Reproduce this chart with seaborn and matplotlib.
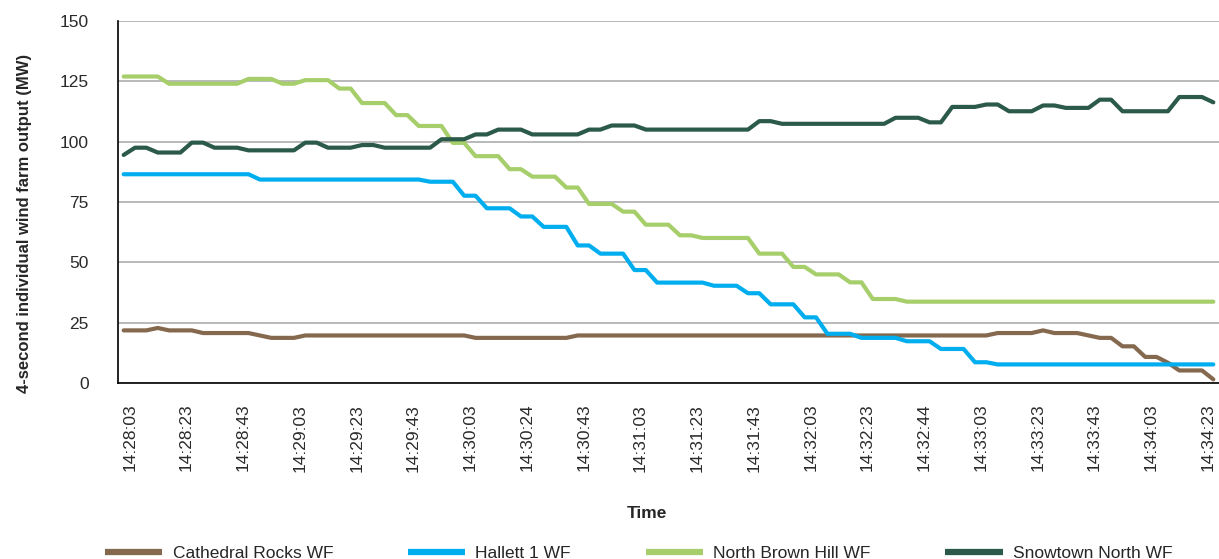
import numpy as np
import pandas as pd
import matplotlib
matplotlib.use("Agg")
import matplotlib.pyplot as plt
import matplotlib.transforms as mtransforms
import seaborn as sns

# 4-second samples, 14:28:03 -> 14:34:27 (label shown every 5th sample)
tick_labels = [
    "14:28:03", "14:28:23", "14:28:43", "14:29:03", "14:29:23",
    "14:29:43", "14:30:03", "14:30:24", "14:30:43", "14:31:03",
    "14:31:23", "14:31:43", "14:32:03", "14:32:23", "14:32:44",
    "14:33:03", "14:33:23", "14:33:43", "14:34:03", "14:34:23",
]

cathedral_rocks = [
    21.8, 21.8, 21.8, 22.8, 21.8, 21.8, 21.8, 20.7, 20.7, 20.7,
    20.7, 20.7, 19.7, 18.7, 18.7, 18.7, 19.7, 19.7, 19.7, 19.7,
    19.7, 19.7, 19.7, 19.7, 19.7, 19.7, 19.7, 19.7, 19.7, 19.7,
    19.7, 18.7, 18.7, 18.7, 18.7, 18.7, 18.7, 18.7, 18.7, 18.7,
    19.7, 19.7, 19.7, 19.7, 19.7, 19.7, 19.7, 19.7, 19.7, 19.7,
    19.7, 19.7, 19.7, 19.7, 19.7, 19.7, 19.7, 19.7, 19.7, 19.7,
    19.7, 19.7, 19.7, 19.7, 19.7, 19.7, 19.7, 19.7, 19.7, 19.7,
    19.7, 19.7, 19.7, 19.7, 19.7, 19.7, 19.7, 20.7, 20.7, 20.7,
    20.7, 21.8, 20.7, 20.7, 20.7, 19.7, 18.7, 18.7, 15.2, 15.2,
    10.8, 10.8, 8.4, 5.2, 5.2, 5.2, 1.5,
]

hallett_1 = [
    86.5, 86.5, 86.5, 86.5, 86.5, 86.5, 86.5, 86.5, 86.5, 86.5,
    86.5, 86.5, 84.3, 84.3, 84.3, 84.3, 84.3, 84.3, 84.3, 84.3,
    84.3, 84.3, 84.3, 84.3, 84.3, 84.3, 84.3, 83.4, 83.4, 83.4,
    77.6, 77.6, 72.4, 72.4, 72.4, 69.0, 69.0, 64.7, 64.7, 64.7,
    57.0, 57.0, 53.6, 53.6, 53.6, 46.8, 46.8, 41.6, 41.6, 41.6,
    41.6, 41.6, 40.3, 40.3, 40.3, 37.2, 37.2, 32.6, 32.6, 32.6,
    27.2, 27.2, 20.4, 20.4, 20.4, 18.7, 18.7, 18.7, 18.7, 17.3,
    17.3, 17.3, 14.1, 14.1, 14.1, 8.6, 8.6, 7.7, 7.7, 7.7,
    7.7, 7.7, 7.7, 7.7, 7.7, 7.7, 7.7, 7.7, 7.7, 7.7,
    7.7, 7.7, 7.7, 7.7, 7.7, 7.7, 7.7,
]

north_brown_hill = [
    127.0, 127.0, 127.0, 127.0, 124.0, 124.0, 124.0, 124.0, 124.0, 124.0,
    124.0, 126.0, 126.0, 126.0, 124.0, 124.0, 125.5, 125.5, 125.5, 122.0,
    122.0, 116.0, 116.0, 116.0, 111.0, 111.0, 106.5, 106.5, 106.5, 99.5,
    99.5, 94.0, 94.0, 94.0, 88.6, 88.6, 85.5, 85.5, 85.5, 81.0,
    81.0, 74.2, 74.2, 74.2, 71.0, 71.0, 65.6, 65.6, 65.6, 61.2,
    61.2, 60.1, 60.1, 60.1, 60.1, 60.1, 53.6, 53.6, 53.6, 48.1,
    48.1, 45.0, 45.0, 45.0, 41.7, 41.7, 34.8, 34.8, 34.8, 33.7,
    33.7, 33.7, 33.7, 33.7, 33.7, 33.7, 33.7, 33.7, 33.7, 33.7,
    33.7, 33.7, 33.7, 33.7, 33.7, 33.7, 33.7, 33.7, 33.7, 33.7,
    33.7, 33.7, 33.7, 33.7, 33.7, 33.7, 33.7,
]

snowtown_north = [
    94.5, 97.5, 97.5, 95.5, 95.5, 95.5, 99.6, 99.6, 97.5, 97.5,
    97.5, 96.4, 96.4, 96.4, 96.4, 96.4, 99.6, 99.6, 97.5, 97.5,
    97.5, 98.6, 98.6, 97.5, 97.5, 97.5, 97.5, 97.5, 101.0, 101.0,
    101.0, 103.0, 103.0, 105.0, 105.0, 105.0, 103.0, 103.0, 103.0, 103.0,
    103.0, 105.0, 105.0, 106.7, 106.7, 106.7, 105.0, 105.0, 105.0, 105.0,
    105.0, 105.0, 105.0, 105.0, 105.0, 105.0, 108.5, 108.5, 107.4, 107.4,
    107.4, 107.4, 107.4, 107.4, 107.4, 107.4, 107.4, 107.4, 109.9, 109.9,
    109.9, 108.0, 108.0, 114.4, 114.4, 114.4, 115.4, 115.4, 112.6, 112.6,
    112.6, 115.0, 115.0, 114.0, 114.0, 114.0, 117.4, 117.4, 112.6, 112.6,
    112.6, 112.6, 112.6, 118.5, 118.5, 118.5, 116.3,
]

farm_names = ["Cathedral Rocks WF", "Hallett 1 WF", "North Brown Hill WF", "Snowtown North WF"]
farm_colors = ["#85694F", "#00AEEF", "#A6CE6B", "#2C5A4A"]

n = len(cathedral_rocks)
wide = pd.DataFrame({
    "step": np.arange(n),
    farm_names[0]: cathedral_rocks,
    farm_names[1]: hallett_1,
    farm_names[2]: north_brown_hill,
    farm_names[3]: snowtown_north,
})
df = wide.melt(id_vars="step", var_name="farm", value_name="MW")

sns.set_style("white")
plt.rcParams["font.family"] = ["Liberation Sans", "DejaVu Sans"]

W, H = 1219, 559
fig = plt.figure(figsize=(W / 100, H / 100), dpi=100)
ax = fig.add_axes([118 / W, 1 - 383 / H, 1101 / W, 362 / H])

sns.lineplot(data=df, x="step", y="MW", hue="farm", hue_order=farm_names,
             palette=dict(zip(farm_names, farm_colors)), linewidth=3,
             ax=ax, legend=False)

ax.set_xlim(-0.5, n - 0.5)
ax.set_ylim(0, 150)
ax.set_yticks(range(0, 151, 25))
ax.set_xticks(range(0, n, 5))
ax.set_xticklabels(tick_labels, rotation=90)

ax.set_axisbelow(True)
ax.grid(axis="y", color="#A6A6A6", linewidth=1.1)
ax.grid(axis="x", visible=False)
for side in ["top", "right"]:
    ax.spines[side].set_visible(False)
for side in ["left", "bottom"]:
    ax.spines[side].set_color("black")
    ax.spines[side].set_linewidth(1.2)

ax.tick_params(axis="y", length=0, pad=21, labelsize=12.5, labelcolor="#2a2a2a")
ax.tick_params(axis="x", length=0, pad=15, labelsize=12.5, labelcolor="#2a2a2a")
# nudge rotated labels a little right like the original
shift = mtransforms.ScaledTranslation(6 / 100, 0, fig.dpi_scale_trans)
for lbl in ax.get_xticklabels():
    lbl.set_transform(lbl.get_transform() + shift)

ax.set_xlabel("Time", fontsize=12.5, fontweight="bold")
ax.xaxis.set_label_coords(0.48, -0.34)
ax.set_ylabel("4-second individual wind farm output (MW)", fontsize=12, fontweight="bold")
ax.yaxis.set_label_coords(-0.078, 0.44)

handles = [plt.Line2D([], [], color=c, linewidth=4.5, solid_capstyle="butt") for c in farm_colors]
fig.legend(handles, farm_names, loc="center", bbox_to_anchor=(0.524, 1 - 553 / H),
           ncol=4, frameon=False, fontsize=12.5, handlelength=3.3,
           handletextpad=0.6, columnspacing=4.3)

fig.savefig("out.png", dpi=100)
